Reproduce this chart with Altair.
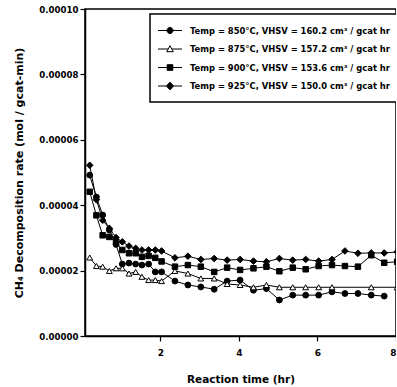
import altair as alt
import pandas as pd

# Reaction time (hr)
times = [0.2, 0.37, 0.53, 0.7, 0.87, 1.03, 1.2, 1.37, 1.53, 1.7, 1.87, 2.03,
         2.37, 2.7, 3.03, 3.37, 3.7, 4.03, 4.37, 4.7, 5.03, 5.37, 5.7, 6.03,
         6.37, 6.7, 7.03, 7.37, 7.7, 8.03]

# CH4 decomposition rate, in units of 1e-5 mol / gcat-min
rate_850 = [4.92, 4.25, 3.70, 3.24, 2.80, 2.20, 2.23, 2.20, 2.17, 2.20, 1.96, 1.96,
            1.68, 1.56, 1.50, 1.43, 1.68, 1.71, 1.40, 1.45, 1.10, 1.25, 1.25, 1.25,
            1.35, 1.30, 1.30, 1.25, 1.22, None]
rate_875 = [2.40, 2.14, 2.12, 1.99, 2.07, 2.07, 1.91, 1.96, 1.81, 1.71, 1.71, 1.68,
            1.99, 1.91, 1.76, 1.76, 1.59, 1.56, 1.49, 1.56, 1.49, 1.49, 1.49, 1.49,
            1.49, None, None, 1.49, None, 1.49]
rate_900 = [4.41, 3.69, 3.08, 3.03, 2.88, 2.63, 2.53, 2.53, 2.42, 2.45, 2.39, 2.28,
            2.12, 2.17, 2.12, 1.96, 2.09, 2.02, 2.07, 2.12, 1.98, 2.09, 2.04, 2.14,
            2.17, 2.14, 2.12, 2.47, 2.24, 2.27]
rate_925 = [5.22, 4.17, 3.54, 3.29, 3.01, 2.88, 2.75, 2.68, 2.63, 2.63, 2.63, 2.60,
            2.39, 2.44, 2.34, 2.37, 2.32, 2.34, 2.29, 2.27, 2.37, 2.32, 2.34, 2.29,
            2.34, 2.60, 2.53, 2.54, 2.54, 2.57]

labels = [
    "Temp = 850°C, VHSV = 160.2 cm³ / gcat hr",
    "Temp = 875°C, VHSV = 157.2 cm³ / gcat hr",
    "Temp = 900°C, VHSV = 153.6 cm³ / gcat hr",
    "Temp = 925°C, VHSV = 150.0 cm³ / gcat hr",
]
series_values = [rate_850, rate_875, rate_900, rate_925]

x_ticks = [2, 4, 6, 8]
y_ticks = [0.0, 0.00002, 0.00004, 0.00006, 0.00008, 0.00010]

rows = []
for lab, vals in zip(labels, series_values):
    for t, v in zip(times, vals):
        if v is not None:
            rows.append({"time": t, "rate": v * 1e-5, "series": lab})
df = pd.DataFrame(rows)

FONT = "DejaVu Sans"

x_enc = alt.X("time:Q",
              scale=alt.Scale(domain=[0.08, 8], nice=False, zero=False),
              axis=alt.Axis(values=x_ticks, title="Reaction time (hr)", format="d",
                            tickSize=5, labelPadding=7, titlePadding=17,
                            labelFontSize=9, titleFontSize=10.5))
y_enc = alt.Y("rate:Q",
              scale=alt.Scale(domain=[0, 0.0001], nice=False),
              axis=alt.Axis(values=y_ticks, format=".5f",
                            title="CH₄ Decomposition rate (mol / gcat-min)",
                            tickSize=5, labelPadding=2, titlePadding=14,
                            labelFontSize=8.6, titleFontSize=11))

base = alt.Chart(df)

lines = base.mark_line(color="black", strokeWidth=1, clip=True).encode(
    x=x_enc, y=y_enc, detail="series:N")

mark_styles = [
    dict(shape="circle", size=34, fill="black"),
    dict(shape="triangle-up", size=34, fill="white"),
    dict(shape="square", size=30, fill="black"),
    dict(shape="diamond", size=44, fill="black"),
]

point_layers = []
for lab, st in zip(labels, mark_styles):
    point_layers.append(
        base.transform_filter(alt.datum.series == lab).mark_point(
            shape=st["shape"], size=st["size"], filled=True, fill=st["fill"],
            stroke="black", strokeWidth=1, opacity=1, clip=True
        ).encode(x=x_enc, y=y_enc)
    )

legend_paths = [
    "M-2,0H-0.5M0.5,0H2M-0.5,0A0.5,0.5,0,1,1,0.5,0A0.5,0.5,0,1,1,-0.5,0Z",
    "M-2,0H-0.3M0.3,0H2M0,-0.55L0.55,0.45L-0.55,0.45Z",
    "M-2,0H-0.47M0.47,0H2M-0.47,-0.47H0.47V0.47H-0.47Z",
    "M-2,0H-0.6M0.6,0H2M0,-0.65L0.6,0L0,0.65L-0.6,0Z",
]
legend_fills = ["black", "white", "black", "black"]
legend_strokes = ["black", "black", "black", "black"]

leg = alt.Legend(title=None, orient="none", legendX=65, legendY=5,
                 symbolSize=144, symbolStrokeWidth=1, symbolStrokeColor="black",
                 symbolOpacity=1,
                 symbolOffset=3.5, labelOffset=13.5, rowPadding=6.5, padding=10,
                 labelFont=FONT, labelFontSize=8.4, labelFontWeight="bold",
                 labelColor="black", labelLimit=0,
                 strokeColor="black", fillColor="white")

# legend-only layer: no rows drawn, legend built from the explicit scale domains
legend_layer = base.transform_filter("datum.time < 0").mark_point(
    filled=True, strokeWidth=1, size=144, opacity=1).encode(
    x=x_enc, y=y_enc,
    shape=alt.Shape("series:N", scale=alt.Scale(domain=labels, range=legend_paths),
                    legend=leg),
    fill=alt.Fill("series:N", scale=alt.Scale(domain=labels, range=legend_fills),
                  legend=leg),
    stroke=alt.Stroke("series:N", scale=alt.Scale(domain=labels, range=legend_strokes),
                      legend=leg),
)

chart = alt.layer(lines, *point_layers, legend_layer).properties(
    width=311, height=327,
    autosize=alt.AutoSizeParams(type="none"),
    padding={"left": 85, "top": 9, "right": 0, "bottom": 51},
    background="white",
).configure_view(
    stroke="black", strokeWidth=1.5
).configure_axis(
    grid=False, domainColor="black", domainWidth=1.5,
    tickColor="black", tickWidth=1.2,
    labelFont=FONT, labelFontWeight="bold", labelColor="black",
    titleFont=FONT, titleFontWeight="bold", titleColor="black",
).configure_legend(
    strokeWidth=1.5
)

chart.save("out.html", embed_options={"renderer": "svg", "actions": False})
